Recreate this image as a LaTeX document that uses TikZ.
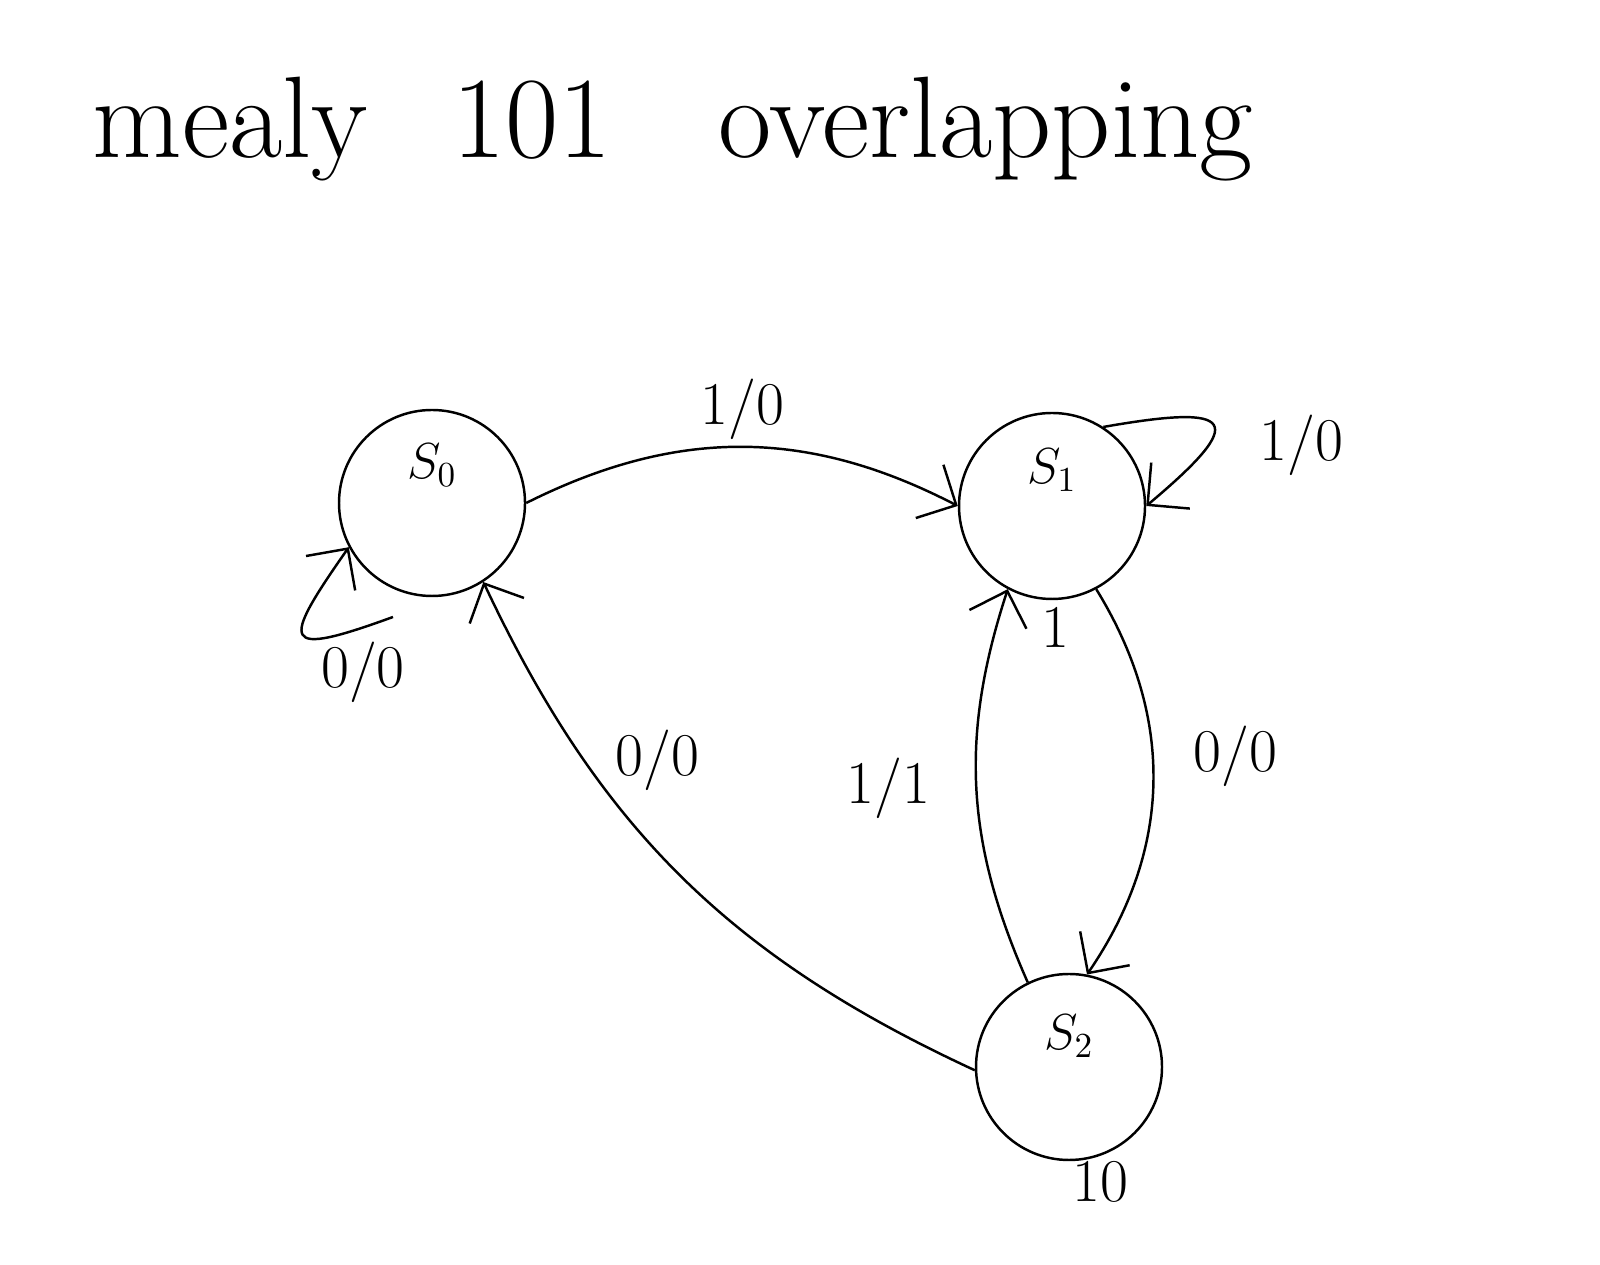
\documentclass[tikz,border=0pt]{standalone}
\usetikzlibrary{arrows.meta}
\begin{document}
\begin{tikzpicture}[state/.style = {draw, circle, minimum size=1.86cm, line width=0.7pt},
  lbl/.style = {font=\LARGE, inner sep=0pt},
  >={Straight Barb[length=3mm, width=6mm, line width=0.7pt]},
  line width=0.7pt]
\useasboundingbox (0,0) rectangle (16,12.65);
\node[anchor=base west, font=\fontsize{33}{40}\selectfont] (title) at (0.80,11.07) {mealy\hspace{0.84cm}101\hspace{1.07cm}overlapping};
\node[state, label={[font=\Large, yshift=3.8mm]center:$S_0$}] (s0) at (4.32,7.62) {};
\node[state, label={[font=\Large, yshift=3.6mm]center:$S_1$}] (s1) at (10.52,7.59) {};
\node[state, label={[font=\Large, yshift=3.1mm]center:$S_2$}] (s2) at (10.69,1.98) {};
\coordinate (s0loop) at ([shift={(-0.39,-1.14)}]s0.center);
\draw[->] (s0.east) to[bend left=27] node[lbl, midway, above=0.6mm] (l10a) {1/0} (s1.west);
\draw[->] (s1.57) to[out=10, in=40, distance=1.35cm] node[lbl, midway, right=4.5mm, yshift=-2mm] (l10b) {1/0} (s1.east);
\draw[->] (s0loop) to[out=200, in=235, distance=1.2cm] (s0.208);
\node[lbl] (l00a) at (3.63,5.93) {0/0};
\draw[->] (s1.-62) to[bend left=33] node[lbl, pos=0.43, right=4mm] (l00b) {0/0} (s2.79);
\draw[->] (s2.116) to[bend left=21] node[lbl, midway, left=4.5mm] (l11) {1/1} (s1.-118);
\draw[->] (s2.182) to[bend left=20] node[lbl, pos=0.55, above=6mm] (l00c) {0/0} (s0.-57);
\node[lbl] (m1) at (10.55,6.38) {1};
\node[lbl] (m10) at (11.00,0.83) {10};
\end{tikzpicture}
\end{document}
